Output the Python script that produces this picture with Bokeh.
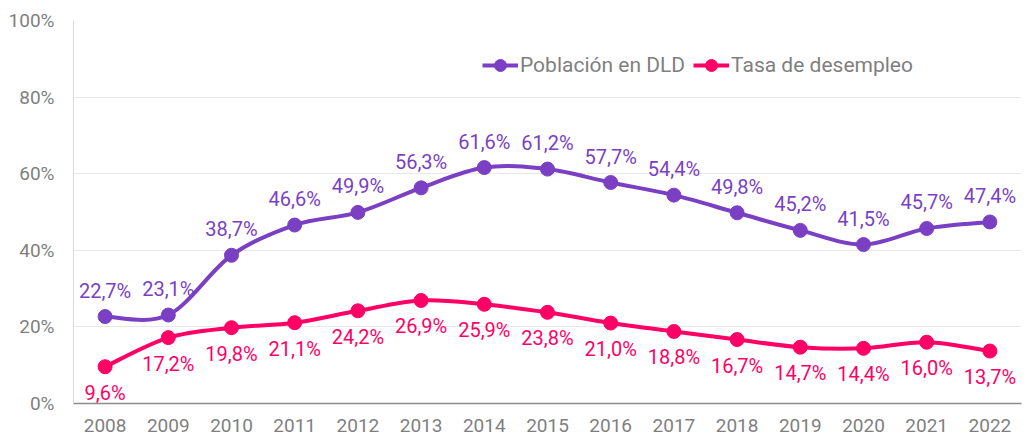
import numpy as np
from bokeh.plotting import figure
from bokeh.models import FixedTicker, PrintfTickFormatter, Legend, LegendItem, ColumnDataSource, Range1d
from bokeh.core.properties import value
from bokeh.embed import file_html
from bokeh.resources import INLINE

years = [2008, 2009, 2010, 2011, 2012, 2013, 2014, 2015, 2016, 2017, 2018, 2019, 2020, 2021, 2022]
dld = [22.7, 23.1, 38.7, 46.6, 49.9, 56.3, 61.6, 61.2, 57.7, 54.4, 49.8, 45.2, 41.5, 45.7, 47.4]
tasa = [9.6, 17.2, 19.8, 21.1, 24.2, 26.9, 25.9, 23.8, 21.0, 18.8, 16.7, 14.7, 14.4, 16.0, 13.7]
series_names = ["Población en DLD", "Tasa de desempleo"]
y_ticks = [0, 20, 40, 60, 80, 100]

PURPLE = "#7B3FC4"
PINK = "#FF0066"
GRAY_TXT = "#7F7F7F"
FONT = "Roboto"

p = figure(width=1024, height=439, output_backend="svg", toolbar_location=None,
           x_range=Range1d(2007.5, 2022.5), y_range=Range1d(0, 100),
           min_border_left=73, min_border_right=3, min_border_top=20, min_border_bottom=36)
p.outline_line_color = None
p.background_fill_color = "white"

def fmt(v):
    return f"{v:.1f}".replace(".", ",") + "%"

def smooth(xs, ys):
    x = np.array(xs, dtype=float)
    y = np.array(ys, dtype=float)
    xp = np.concatenate([[x[0]], x, [x[-1]]])
    yp = np.concatenate([[y[0]], y, [y[-1]]])
    n = len(x)
    d = dict(x0=[], y0=[], x1=[], y1=[], cx0=[], cy0=[], cx1=[], cy1=[])
    for i in range(n - 1):
        k = i + 1
        d["x0"].append(xp[k]); d["y0"].append(yp[k])
        d["x1"].append(xp[k + 1]); d["y1"].append(yp[k + 1])
        d["cx0"].append(xp[k] + (xp[k + 1] - xp[k - 1]) / 6)
        d["cy0"].append(yp[k] + (yp[k + 1] - yp[k - 1]) / 6)
        d["cx1"].append(xp[k + 1] - (xp[k + 2] - xp[k]) / 6)
        d["cy1"].append(yp[k + 1] - (yp[k + 2] - yp[k]) / 6)
    return ColumnDataSource(d)

items = []
for vals, color, name, off in [(dld, PURPLE, series_names[0], -26), (tasa, PINK, series_names[1], 26)]:
    p.bezier(x0="x0", y0="y0", x1="x1", y1="y1", cx0="cx0", cy0="cy0", cx1="cx1", cy1="cy1",
             source=smooth(years, vals), line_color=color, line_width=4)
    src = ColumnDataSource(dict(x=years, y=vals, lab=[fmt(v) for v in vals]))
    leg_line = p.line(x=years, y=[float("nan")] * len(years), line_color=color, line_width=4)
    sc = p.scatter(x="x", y="y", source=src, size=14, fill_color=color, line_color=color)
    p.text(x="x", y="y", text="lab", source=src, y_offset=off, text_align="center",
           text_baseline="middle", text_color=color, text_font=value(FONT), text_font_size="20px")
    items.append(LegendItem(label=name, renderers=[leg_line, sc]))

legend = Legend(items=items, orientation="horizontal", location=(409, 323),
                glyph_width=36, glyph_height=30, label_height=30, label_standoff=2, spacing=8,
                padding=0, margin=0, border_line_color=None, background_fill_alpha=0,
                label_text_font=FONT, label_text_font_size="21px", label_text_color=GRAY_TXT)
p.add_layout(legend)

p.xaxis.ticker = FixedTicker(ticks=years)
p.yaxis.ticker = FixedTicker(ticks=y_ticks)
p.yaxis.formatter = PrintfTickFormatter(format="%d%%")
for ax in (p.xaxis[0], p.yaxis[0]):
    ax.major_tick_line_color = None
    ax.minor_tick_line_color = None
    ax.major_label_text_font = FONT
    ax.major_label_text_font_size = "19px"
    ax.major_label_text_color = GRAY_TXT
p.xaxis.axis_line_color = "#8C8C8C"
p.xaxis.axis_line_width = 1.5
p.xaxis.major_label_standoff = 9
p.yaxis.axis_line_color = "#D9D9D9"
p.yaxis.major_label_standoff = 13
p.xgrid.grid_line_color = None
p.ygrid.grid_line_color = "#E8E8E8"
p.ygrid.ticker = FixedTicker(ticks=y_ticks)

open("out.html", "w").write(file_html(p, INLINE))
